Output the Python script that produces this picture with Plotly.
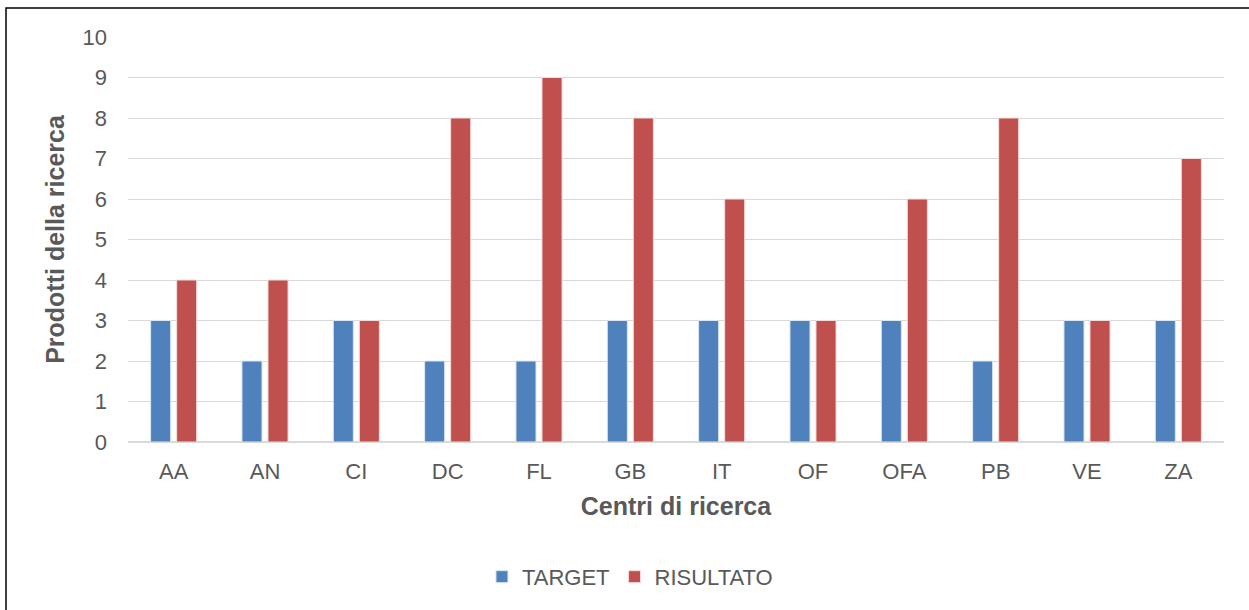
import plotly.graph_objects as go

centri = ["AA", "AN", "CI", "DC", "FL", "GB", "IT", "OF", "OFA", "PB", "VE", "ZA"]
target = [3, 2, 3, 2, 2, 3, 3, 3, 3, 2, 3, 3]
risultato = [4, 4, 3, 8, 9, 8, 6, 3, 6, 8, 3, 7]

fig = go.Figure()
fig.add_trace(go.Bar(name="TARGET", x=centri, y=target, marker_color="#4F81BD",
                     marker_line=dict(color="#DCE6F2", width=1)))
fig.add_trace(go.Bar(name="RISULTATO", x=centri, y=risultato, marker_color="#C0504D",
                     marker_line=dict(color="#F2DCDB", width=1)))

fig.update_layout(
    width=1249, height=610,
    margin=dict(l=128, r=25, t=37, b=168),
    plot_bgcolor="white", paper_bgcolor="white",
    barmode="group", bargap=0.43, bargroupgap=0.23,
    font=dict(family="Liberation Sans, Arial", color="#595959", size=22),
    legend=dict(orientation="h", x=0.458, xanchor="center", y=-0.333, yanchor="middle",
                font=dict(size=22, color="#595959"), traceorder="normal"),
    shapes=[dict(type="rect", xref="paper", yref="paper",
                 x0=-0.1113, x1=1.04, y0=-0.45, y1=1.0716,
                 line=dict(color="black", width=1.5), layer="below")],
)
fig.update_xaxes(
    title=dict(text="<b>Centri di ricerca</b>", font=dict(size=25, color="#595959"), standoff=14),
    showline=True, linecolor="#D9D9D9", linewidth=1, ticks="", ticklabelstandoff=10,
    tickfont=dict(size=22, color="#595959"),
)
fig.update_yaxes(
    title=dict(text="<b>Prodotti della ricerca</b>", font=dict(size=25, color="#595959"), standoff=10),
    range=[0, 10], dtick=1, showgrid=True, gridcolor="#D9D9D9", gridwidth=1,
    zeroline=True, zerolinecolor="#D9D9D9", ticks="", ticklabelstandoff=20,
    tickfont=dict(size=22, color="#595959"),
)

# drop the default page margin so the figure sits at the window's top-left corner
fig.write_html("out.html", config={"displayModeBar": False},
               post_script="document.body.style.margin='0';")
